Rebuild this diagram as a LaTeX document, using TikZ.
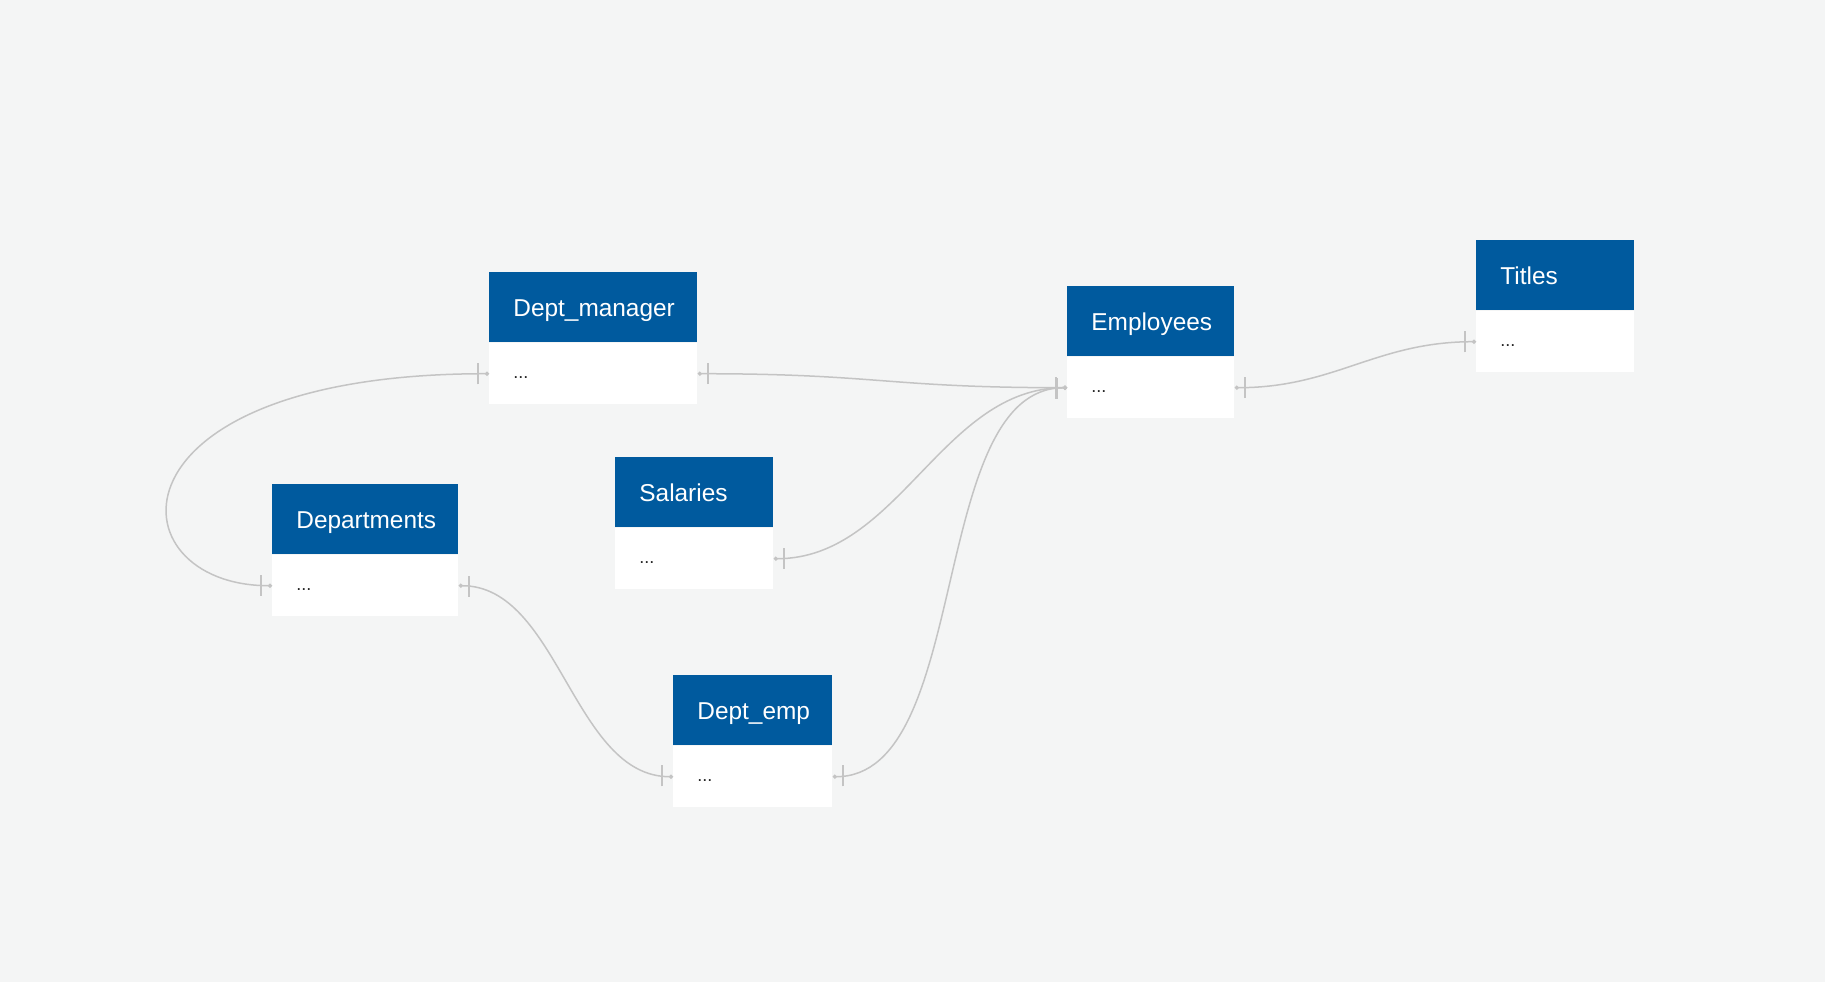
\documentclass[tikz,border=0pt]{standalone}
\usepackage{fontspec}
\setmainfont{Liberation Sans}
\usetikzlibrary{positioning,arrows.meta,decorations.markings}
\definecolor{hdrblue}{HTML}{005A9E}
\definecolor{bgcol}{HTML}{F4F5F5}
\definecolor{relgray}{HTML}{C4C4C4}

\tikzset{
  tblhead/.style={fill=hdrblue, text=white, anchor=north west, align=left,
    minimum height=35pt, inner xsep=12pt, inner ysep=0pt,
    text height=8.7pt, text depth=0pt,
    font=\fontsize{12.2}{14}\selectfont},
  tblbody/.style={fill=white, text=black!85, align=left,
    minimum height=30.5pt, inner xsep=12pt, inner ysep=0pt,
    font=\fontsize{9}{10.8}\selectfont},
  reltick/.style={-, relgray, line width=1pt},
  rel/.style={draw=relgray, line width=0.75pt,
    {Circle[length=2pt]}-{Circle[length=2pt]},
    postaction={decorate, decoration={markings,
      mark=at position 5.3pt with {\pgftransformresetnontranslations
        \draw[reltick] (0,-5.25pt) -- (0,5.25pt);},
      mark=at position -5.3pt with {\pgftransformresetnontranslations
        \draw[reltick] (0,-5.25pt) -- (0,5.25pt);}}}}
}

\begin{document}
\begin{tikzpicture}[x=0.5pt,y=-0.5pt]
\fill[bgcol] (0,0) rectangle (1825,982);

% tables: name/title/left/top/width (px)
\foreach \nm/\ttl/\x/\y/\w in {dm/Dept\_manager/489/272/208,
    emp/Employees/1067/286/167, tit/Titles/1476/240/158,
    sal/Salaries/615/457/158, dep/Departments/272/484/186,
    de/Dept\_emp/673/675/159}{
  \pgfmathsetmacro{\tw}{\w/2-24}
  \node[tblhead, text width=\tw pt] (\nm) at (\x,\y) {\ttl};
  \node[tblbody, text width=\tw pt, below=0pt of \nm] (\nm-b) {\strut...};
}

% relations
\draw[rel] (dm-b.west) .. controls +(-390,0) and +(-160,0) .. (dep-b.west);
\draw[rel] (dm-b.east) .. controls +(180,0) and +(-180,0) .. (emp-b.west);
\draw[rel] (sal-b.east) .. controls +(125,0) and +(-125,0) .. (emp-b.west);
\draw[rel] (de-b.east) .. controls +(140,0) and +(-140,0) .. (emp-b.west);
\draw[rel] (dep-b.east) .. controls +(100,0) and +(-100,0) .. (de-b.west);
\draw[rel] (emp-b.east) .. controls +(100,0) and +(-100,0) .. (tit-b.west);
\end{tikzpicture}
\end{document}
